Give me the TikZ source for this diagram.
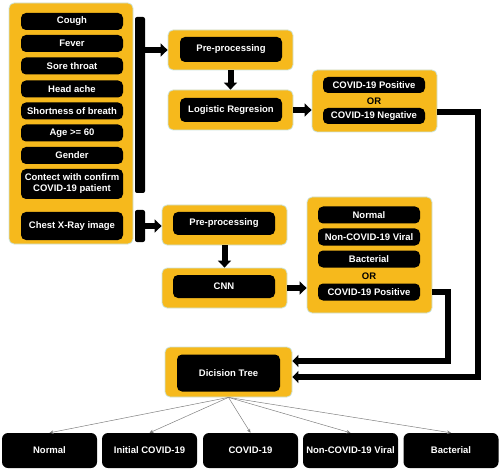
\documentclass[tikz,border=0pt]{standalone}
\usepackage{fontspec}
\setmainfont{Liberation Sans}
\usetikzlibrary{arrows.meta,calc}
\definecolor{gold}{RGB}{246,185,28}
\definecolor{rim}{RGB}{205,228,222}
\begin{document}
\begin{tikzpicture}[x=1pt,y=-1pt,
  panel/.style={fill=gold, draw=rim, line width=0.8pt, rounded corners=5pt, inner sep=0pt},
  blk/.style={fill=black, text=white, rounded corners=5pt, inner sep=0pt, align=center,
    font=\bfseries\fontsize{9.5}{11}\selectfont, minimum width=102pt, minimum height=17pt},
  ortxt/.style={font=\bfseries\fontsize{9.5}{11}\selectfont, text=black, inner sep=0pt},
  bar/.style={fill=black, rounded corners=2pt, minimum width=10pt, inner sep=0pt},
  fat/.style={draw=black, line width=6pt, -{Triangle[length=7pt,width=13pt]}},
  link/.style={draw=black, line width=6.5pt, -{Triangle[length=6pt,width=12pt]}},
  thin/.style={draw=gray, line width=0.5pt, -{Stealth[length=4pt,width=3.5pt]}},
  leaf/.style={blk, rounded corners=6pt, minimum width=95pt, minimum height=35pt}
]
\useasboundingbox (0,0) rectangle (500,470);

% left input panel
\node[panel, minimum width=124pt, minimum height=241pt] (lp) at (71,123.5) {};
\node[blk] (cough) at (72,21.5) {Cough};
\node[blk] (fever) at (72,43.5) {Fever};
\node[blk] (sore) at (72,66) {Sore throat};
\node[blk] (head) at (72,89) {Head ache};
\node[blk] (short) at (72,111) {Shortness of breath};
\node[blk] (age) at (72,133) {Age >= 60};
\node[blk] (gender) at (72,155.5) {Gender};
\node[blk, minimum height=30pt] (contact) at (72,184) {Contect with confirm\\COVID-19 patient};
\node[blk, minimum height=28pt] (chest) at (72,226) {Chest X-Ray image};

\node[bar, minimum height=176pt] (bar1) at (140,105) {};
\node[bar, minimum height=32pt] (bar2) at (140,226) {};

% upper branch
\node[panel, minimum width=125pt, minimum height=40pt] (pre1p) at (230.5,50) {};
\node[blk, minimum height=25pt] (pre1) at (231,49.5) {Pre-processing};
\node[panel, minimum width=125pt, minimum height=40pt] (logp) at (230.5,110) {};
\node[blk, minimum height=24pt] (log) at (231,110) {Logistic Regresion};

\node[panel, minimum width=125pt, minimum height=62pt] (topc) at (374.5,101) {};
\node[blk, minimum height=16pt] (pos1) at (374,85) {COVID-19 Positive};
\node[ortxt] (or1) at (374,101) {OR};
\node[blk, minimum height=16pt] (neg1) at (374,116) {COVID-19 Negative};

% lower branch
\node[panel, minimum width=125pt, minimum height=40pt] (pre2p) at (224.5,225) {};
\node[blk, minimum height=23pt] (pre2) at (224,223.5) {Pre-processing};
\node[panel, minimum width=125pt, minimum height=40pt] (cnnp) at (224.5,288) {};
\node[blk, minimum height=23pt] (cnn) at (224,286.5) {CNN};

\node[panel, minimum width=125pt, minimum height=116pt] (botc) at (369.5,255) {};
\node[blk] (nrm) at (369,215) {Normal};
\node[blk] (ncv) at (369,237) {Non-COVID-19 Viral};
\node[blk] (bac) at (369,259) {Bacterial};
\node[ortxt] (or2) at (369,276) {OR};
\node[blk] (pos2) at (369,292) {COVID-19 Positive};

% decision tree
\node[panel, minimum width=127pt, minimum height=50pt] (dtp) at (228.5,372) {};
\node[blk, minimum width=103pt, minimum height=37pt] (dt) at (228.5,373) {Dicision Tree};

% leaves
\node[leaf] (l1) at (49.5,450.5) {Normal};
\node[leaf] (l2) at (149.5,450.5) {Initial COVID-19};
\node[leaf] (l3) at (250.5,450.5) {COVID-19};
\node[leaf] (l4) at (350.5,450.5) {Non-COVID-19 Viral};
\node[leaf] (l5) at (451,450.5) {Bacterial};

% fat arrows
\draw[fat] (bar1.east |- pre1p.west) -- (pre1p.west);
\draw[fat] (pre1p.south) -- (logp.north);
\draw[fat] (logp.east) -- (logp.east -| topc.west);
\draw[fat] (bar2.east) -- (bar2.east -| pre2p.west);
\draw[fat] (pre2p.south) -- (cnnp.north);
\draw[fat] (cnnp.east) -- (cnnp.east -| botc.west);

% long connectors into the decision tree
\coordinate (k1) at (478,112);
\coordinate (k2) at (478,377);
\draw[link] (topc.east |- k1) -- (k1) -- (k2) -- (k2 -| dtp.east);
\coordinate (k3) at (448,292);
\coordinate (k4) at (448,361);
\draw[link] (botc.east |- k3) -- (k3) -- (k4) -- (k4 -| dtp.east);

% thin outputs
\foreach \l in {l1,l2,l3,l4,l5} \draw[thin] (dtp.south) -- (\l.north);
\end{tikzpicture}
\end{document}
